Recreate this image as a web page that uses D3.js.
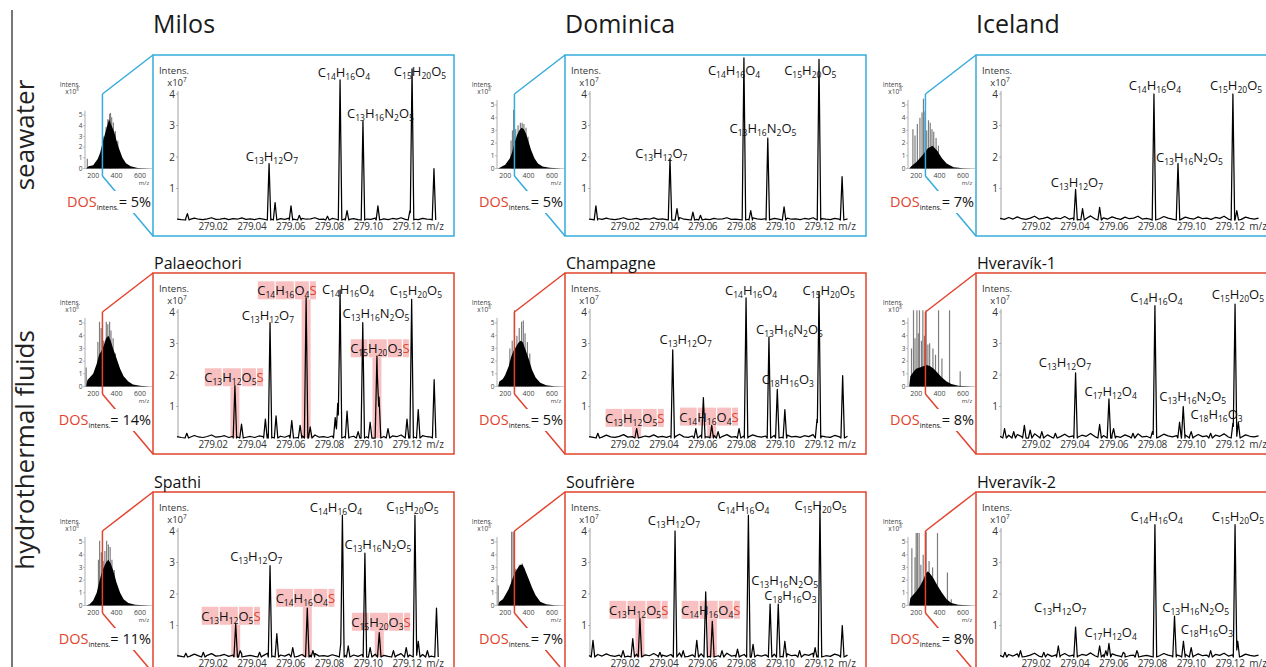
<!DOCTYPE html>
<html>
<head>
<meta charset="utf-8">
<script src="https://cdn.jsdelivr.net/npm/d3@7"></script>
<style>
body { margin: 0; background: #fff; }
svg { display: block; font-family: "Open Sans", sans-serif; }
</style>
</head>
<body>
<script>
// ---------- data ----------
var columns = ["Milos", "Dominica", "Iceland"];
var rowLabels = ["seawater", "hydrothermal fluids"];
var mzTicks = [279.02, 279.04, 279.06, 279.08, 279.10, 279.12];
var intensTicks = [1, 2, 3, 4];
var insetTicksX = [200, 400, 600];
var insetTicksY = [0, 1, 2, 3, 4, 5];

// shared small baseline noise (intensity x10^7)
var baselineNoise = [0.05, 0.02, 0.08, 0.03, 0.1, 0.04, 0.02, 0.06, 0.12, 0.03, 0.05, 0.09, 0.02, 0.07, 0.04, 0.11,
    0.03, 0.06, 0.02, 0.08, 0.05, 0.13, 0.04, 0.02, 0.07, 0.03, 0.1, 0.05, 0.02, 0.09, 0.04, 0.06, 0.12, 0.03,
    0.05, 0.02, 0.08, 0.04, 0.11, 0.06, 0.03, 0.07, 0.02, 0.09, 0.05, 0.03, 0.1, 0.04, 0.06, 0.02, 0.08, 0.05,
    0.12, 0.03, 0.07, 0.04, 0.02, 0.09, 0.05, 0.03, 0.06];

// peaks [m/z, intensity x10^7]
var milosSeaPeaks = [[279.0068, 0.2], [279.0489, 1.79], [279.0520, 0.55], [279.0602, 0.45], [279.0645, 0.15], [279.0790, 0.12],
    [279.0855, 4.45], [279.0891, 0.3], [279.0973, 3.14], [279.1050, 0.45], [279.1215, 0.3], [279.1226, 4.8], [279.1339, 1.63]];
var domSeaPeaks = [[279.0050, 0.45], [279.0432, 1.94], [279.0468, 0.36], [279.0550, 0.25], [279.0589, 0.15], [279.0813, 5.15],
    [279.0848, 0.3], [279.0936, 2.6], [279.1020, 0.42], [279.1200, 5.1], [279.1319, 1.38]];
var iceSeaPeaks = [[279.0404, 0.97], [279.0440, 0.36], [279.0528, 0.4], [279.0808, 4.0], [279.0932, 1.8], [279.1215, 4.0], [279.1235, 0.3]];
var palPeaks = [[279.0065, 0.15], [279.0313, 1.66], [279.0347, 0.44], [279.0470, 0.6], [279.0494, 3.66], [279.0525, 0.7],
    [279.0606, 0.55], [279.0649, 0.4], [279.0680, 4.45], [279.0701, 0.35], [279.0830, 0.65], [279.0843, 1.1], [279.0855, 4.7],
    [279.0891, 0.85], [279.0948, 0.2], [279.0972, 3.66], [279.1010, 0.5], [279.1045, 2.6], [279.1056, 1.3], [279.1102, 0.3],
    [279.1200, 0.6], [279.1224, 4.4], [279.1258, 0.9], [279.1340, 1.85]];
var chaPeaks = [[279.0060, 0.15], [279.0260, 0.3], [279.0446, 2.8], [279.0565, 0.3], [279.0604, 1.28], [279.0647, 0.4],
    [279.0680, 0.2], [279.0788, 0.3], [279.0824, 4.45], [279.0942, 3.2], [279.0985, 1.54], [279.1024, 0.9], [279.1190, 0.6],
    [279.1200, 4.65], [279.1322, 1.98]];
var hv1Peaks = [[279.0038, 0.3], [279.0085, 0.2], [279.0140, 0.4], [279.0170, 0.25], [279.0230, 0.2], [279.0300, 0.15],
    [279.0404, 2.07], [279.0528, 0.43], [279.0576, 1.24], [279.0600, 0.3], [279.0700, 0.15], [279.0800, 0.2], [279.0813, 4.2],
    [279.0940, 0.5], [279.0959, 1.0], [279.1000, 0.2], [279.1100, 0.15], [279.1215, 0.47], [279.1226, 4.25], [279.1243, 0.5]];
var spaPeaks = [[279.0060, 0.12], [279.0150, 0.15], [279.0317, 1.05], [279.0340, 0.2], [279.0440, 0.15], [279.0494, 2.9],
    [279.0529, 0.74], [279.0611, 0.3], [279.0686, 1.55], [279.0715, 0.2], [279.0860, 0.5], [279.0867, 4.5], [279.0897, 0.35],
    [279.0983, 3.3], [279.1010, 0.3], [279.1057, 0.77], [279.1130, 0.2], [279.1196, 0.3], [279.1241, 4.5], [279.1258, 0.5],
    [279.1305, 0.2], [279.1352, 1.55]];
var souPeaks = [[279.0035, 0.53], [279.0190, 0.2], [279.0240, 0.58], [279.0277, 1.23], [279.0380, 0.15], [279.0458, 4.0],
    [279.0500, 0.2], [279.0570, 0.53], [279.0616, 2.07], [279.0650, 1.13], [279.0700, 0.2], [279.0780, 0.25], [279.0836, 4.5],
    [279.0860, 0.4], [279.0948, 1.68], [279.0990, 1.68], [279.1024, 0.5], [279.1100, 0.2], [279.1180, 0.3], [279.1205, 4.8],
    [279.1320, 1.0]];
var hv2Peaks = [[279.0040, 0.15], [279.0120, 0.2], [279.0240, 0.15], [279.0315, 0.35], [279.0404, 0.95], [279.0528, 0.35],
    [279.0560, 0.2], [279.0576, 0.43], [279.0650, 0.15], [279.0720, 0.2], [279.0813, 4.2], [279.0914, 1.3], [279.0960, 0.5],
    [279.1000, 0.3], [279.1100, 0.2], [279.1226, 4.2], [279.1240, 0.5]];

// labels [formula, m/z, intensity of text baseline, m/z of highlighted S peak]
var milosSeaLabels = [["C13H12O7", 279.0504, 1.86], ["C14H16O4", 279.0875, 4.55], ["C13H16N2O5", 279.1063, 3.25], ["C15H20O5", 279.1267, 4.57]];
var domSeaLabels = [["C13H12O7", 279.0387, 1.98], ["C14H16O4", 279.0762, 4.6], ["C13H16N2O5", 279.0911, 2.75], ["C15H20O5", 279.1155, 4.6]];
var iceSeaLabels = [["C13H12O7", 279.0411, 1.06], ["C14H16O4", 279.0813, 4.13], ["C13H16N2O5", 279.0991, 1.85], ["C15H20O5", 279.1231, 4.13]];
var palLabels = [["C14H16O4S", 279.0581, 4.53, 279.0680], ["C14H16O4", 279.0896, 4.56], ["C13H12O7", 279.0483, 3.75],
    ["C13H16N2O5", 279.1040, 3.8], ["C15H20O5", 279.1246, 4.53], ["C15H20O3S", 279.1060, 2.69, 279.1045], ["C13H12O5S", 279.0308, 1.77, 279.0313]];
var chaLabels = [["C14H16O4", 279.0850, 4.55], ["C15H20O5", 279.1250, 4.55], ["C13H12O7", 279.0513, 2.98], ["C13H16N2O5", 279.1048, 3.31],
    ["C18H16O3", 279.1039, 1.72], ["C13H12O5S", 279.0250, 0.48, 279.0260], ["C14H16O4S", 279.0633, 0.52, 279.0647]];
var hv1Labels = [["C13H12O7", 279.0349, 2.26], ["C17H12O4", 279.0585, 1.34], ["C14H16O4", 279.0821, 4.33], ["C15H20O5", 279.1241, 4.4],
    ["C13H16N2O5", 279.1008, 1.18], ["C18H16O3", 279.1131, 0.61]];
var spaLabels = [["C13H12O7", 279.0423, 3.04], ["C14H16O4", 279.0834, 4.6], ["C13H16N2O5", 279.1050, 3.43], ["C15H20O5", 279.1228, 4.63],
    ["C14H16O4S", 279.0676, 1.72, 279.0686], ["C13H12O5S", 279.0292, 1.15, 279.0317], ["C15H20O3S", 279.1066, 0.96, 279.1057]];
var souLabels = [["C13H12O7", 279.0452, 4.2], ["C14H16O4", 279.0810, 4.63], ["C15H20O5", 279.1208, 4.66], ["C13H16N2O5", 279.1023, 2.28],
    ["C18H16O3", 279.1053, 1.8], ["C13H12O5S", 279.0270, 1.34, 279.0277], ["C14H16O4S", 279.0642, 1.34, 279.0650]];
var hv2Labels = [["C13H12O7", 279.0325, 1.43], ["C17H12O4", 279.0585, 0.62], ["C14H16O4", 279.0822, 4.31], ["C15H20O5", 279.1241, 4.31],
    ["C13H16N2O5", 279.1023, 1.43], ["C18H16O3", 279.1081, 0.74]];

// full spectra insets: envelope [m/z, intensity x10^8] and taller spikes
var milosSeaEnv = [[140, 0], [160, 0.2], [200, 0.3], [240, 0.9], [260, 1.5], [280, 2.4], [300, 3.2], [320, 4.0], [335, 4.6], [350, 4.2],
    [365, 3.8], [380, 3.4], [400, 2.6], [420, 1.9], [450, 1.0], [480, 0.5], [520, 0.2], [580, 0.05], [680, 0]];
var milosSeaSpikes = [[150, 0.9], [290, 3.0], [310, 3.9], [325, 4.6], [340, 5.1], [348, 5.2], [358, 4.8], [372, 4.3], [390, 3.5], [410, 2.6]];
var domSeaEnv = [[140, 0], [160, 0.1], [200, 0.3], [240, 0.8], [260, 1.3], [280, 2.0], [300, 2.6], [320, 3.0], [340, 3.2], [360, 3.1],
    [380, 2.7], [400, 2.1], [420, 1.5], [450, 0.8], [480, 0.4], [520, 0.15], [580, 0.05], [680, 0]];
var domSeaSpikes = [[250, 2.2], [262, 3.0], [272, 4.6], [290, 3.1], [310, 3.4], [330, 3.6], [345, 3.6], [360, 3.5], [378, 3.2], [395, 2.5]];
var iceSeaEnv = [[140, 0], [160, 0.2], [200, 0.5], [250, 1.0], [300, 1.6], [340, 1.8], [380, 1.4], [420, 0.8], [460, 0.4], [520, 0.1],
    [600, 0.02], [680, 0]];
var iceSeaSpikes = [[172, 3.1], [190, 2.6], [210, 3.5], [232, 4.0], [250, 4.4], [262, 5.5], [275, 4.5], [290, 3.0], [305, 3.8], [320, 3.6],
    [335, 3.1], [350, 2.9], [370, 2.4], [390, 1.8]];
var palEnv = [[140, 0], [150, 0.5], [180, 0.8], [200, 1.0], [230, 1.8], [250, 2.5], [270, 2.8], [290, 3.2], [310, 3.8], [330, 4.0],
    [350, 3.6], [370, 3.0], [400, 2.2], [430, 1.4], [460, 0.8], [500, 0.4], [540, 0.15], [600, 0.05], [680, 0]];
var palSpikes = [[140, 1.5], [240, 3.5], [254, 5.1], [268, 4.6], [290, 3.6], [312, 5.1], [325, 4.9], [340, 5.1], [352, 4.4], [370, 3.8], [390, 2.6]];
var chaEnv = [[140, 0], [150, 0.4], [180, 0.6], [200, 0.9], [230, 1.6], [250, 2.3], [270, 2.8], [290, 3.1], [310, 3.4], [330, 3.6],
    [350, 3.5], [370, 3.0], [400, 2.2], [430, 1.3], [460, 0.7], [500, 0.3], [550, 0.1], [620, 0.02], [680, 0]];
var chaSpikes = [[240, 3.0], [260, 3.6], [279, 6.2], [300, 4.0], [320, 4.6], [340, 5.1], [355, 5.2], [370, 4.2], [390, 3.5], [410, 2.6]];
var hv1Env = [[140, 0], [150, 0.8], [180, 1.2], [200, 1.4], [230, 1.5], [260, 1.6], [290, 1.7], [320, 1.6], [350, 1.4], [380, 1.1],
    [420, 0.7], [460, 0.4], [500, 0.2], [560, 0.05], [680, 0]];
var hv1Spikes = [[160, 3.0], [177, 6], [190, 3.8], [206, 6], [218, 4.2], [228, 6], [245, 3.6], [257, 6], [270, 4.0], [285, 6], [300, 3.3],
    [315, 3.4], [343, 3.0], [365, 2.5], [391, 6], [420, 2.2], [485, 6], [576, 1.2]];
var spaEnv = [[140, 0], [170, 0.1], [200, 0.4], [230, 1.0], [250, 1.8], [270, 2.5], [290, 3.0], [310, 3.4], [330, 3.6], [350, 3.3],
    [370, 2.8], [400, 1.8], [430, 1.0], [460, 0.5], [500, 0.2], [560, 0.05], [680, 0]];
var spaSpikes = [[245, 3.6], [255, 5.1], [270, 4.2], [285, 3.5], [300, 4.3], [315, 5.1], [330, 4.8], [345, 4.6], [360, 3.6], [380, 2.8]];
var souEnv = [[140, 0], [150, 0.3], [180, 0.5], [200, 0.8], [230, 1.3], [250, 1.8], [270, 2.3], [290, 2.7], [310, 3.0], [330, 3.2],
    [350, 3.2], [370, 2.8], [400, 2.1], [430, 1.4], [460, 0.8], [500, 0.3], [550, 0.1], [620, 0.02], [680, 0]];
var souSpikes = [[140, 1.6], [255, 5.8], [268, 5.8], [290, 2.9], [320, 3.2], [345, 3.3], [360, 3.0]];
var hv2Env = [[140, 0], [150, 0.6], [180, 0.9], [200, 1.1], [230, 1.5], [260, 2.0], [280, 2.5], [300, 2.7], [320, 2.5], [350, 2.1],
    [380, 1.6], [420, 1.0], [460, 0.5], [500, 0.2], [560, 0.05], [680, 0]];
var hv2Spikes = [[163, 4.5], [190, 3.8], [200, 5.7], [210, 5.7], [225, 5.7], [240, 3.2], [260, 4.0], [285, 5.8], [310, 3.5], [340, 3.0],
    [382, 5.7], [467, 2.6], [500, 0.5]];

var panels = [
    { row: 0, col: 0, site: "", dos: 5, noise: 0.6, peaks: milosSeaPeaks, labels: milosSeaLabels, env: milosSeaEnv, spikes: milosSeaSpikes },
    { row: 0, col: 1, site: "", dos: 5, noise: 0.6, peaks: domSeaPeaks, labels: domSeaLabels, env: domSeaEnv, spikes: domSeaSpikes },
    { row: 0, col: 2, site: "", dos: 7, noise: 1.0, peaks: iceSeaPeaks, labels: iceSeaLabels, env: iceSeaEnv, spikes: iceSeaSpikes },
    { row: 1, col: 0, site: "Palaeochori", dos: 14, noise: 0.8, peaks: palPeaks, labels: palLabels, env: palEnv, spikes: palSpikes },
    { row: 1, col: 1, site: "Champagne", dos: 5, noise: 0.9, peaks: chaPeaks, labels: chaLabels, env: chaEnv, spikes: chaSpikes },
    { row: 1, col: 2, site: "Hveravík-1", dos: 8, noise: 1.1, peaks: hv1Peaks, labels: hv1Labels, env: hv1Env, spikes: hv1Spikes },
    { row: 2, col: 0, site: "Spathi", dos: 11, noise: 0.9, peaks: spaPeaks, labels: spaLabels, env: spaEnv, spikes: spaSpikes },
    { row: 2, col: 1, site: "Soufrière", dos: 7, noise: 1.0, peaks: souPeaks, labels: souLabels, env: souEnv, spikes: souSpikes },
    { row: 2, col: 2, site: "Hveravík-2", dos: 8, noise: 1.0, peaks: hv2Peaks, labels: hv2Labels, env: hv2Env, spikes: hv2Spikes }
];

// ---------- layout ----------
var vizWidth = 1266, vizHeight = 667;
var boxLeft = [153, 565, 976], boxTop = [55, 273, 492], boxW = 301, boxH = 181;
var blue = "#35acdc", red = "#e2432d", pink = "#f8c0c0";

var svg = d3.select("body").append("svg")
    .attr("width", vizWidth)
    .attr("height", vizHeight);

svg.append("line")
    .attr("x1", 12).attr("x2", 12).attr("y1", 10).attr("y2", vizHeight)
    .attr("stroke", "#777").attr("stroke-width", 2);

svg.append("text")
    .attr("transform", "translate(34,135) rotate(-90)")
    .attr("text-anchor", "middle")
    .style("font-size", "26px").attr("fill", "#222")
    .text(rowLabels[0]);
svg.append("text")
    .attr("transform", "translate(34,450) rotate(-90)")
    .attr("text-anchor", "middle")
    .style("font-size", "26px").attr("fill", "#222")
    .text(rowLabels[1]);

columns.forEach(function (c, i) {
    svg.append("text")
        .attr("x", boxLeft[i]).attr("y", 33)
        .style("font-size", "25px").attr("fill", "#1a1a1a")
        .text(c);
});

panels.forEach(drawPanel);

function drawFormula(g, f, cx, by, sulfur) {
    var t = g.append("text")
        .attr("x", cx).attr("y", by)
        .attr("text-anchor", "middle")
        .style("font-size", "13px")
        .attr("fill", "#111");
    var toks = f.match(/[A-Z][a-z]?\d*/g);
    var down = false;
    toks.forEach(function (tok) {
        var el = tok.match(/[A-Z][a-z]?/)[0], n = tok.slice(el.length);
        var s = t.append("tspan").text(el);
        if (down) { s.attr("dy", -3); down = false; }
        if (sulfur && el === "S") s.attr("fill", red);
        if (n) {
            t.append("tspan").attr("dy", 3).style("font-size", "8.5px").text(n);
            down = true;
        }
    });
    return { node: t.node(), toks: toks };
}

function drawPanel(p) {
    var L = boxLeft[p.col], T = boxTop[p.row];
    var color = p.row === 0 ? blue : red;
    var g = svg.append("g");

    var x = d3.scaleLinear().domain([279.0, 279.14]).range([L + 21.2, L + 292.8]);
    var y = d3.scaleLinear().domain([0, 4]).range([T + 165, T + 39]);

    // inset full spectrum
    var ix = d3.scaleLinear().domain([130, 700]).range([L - 68, L - 1.3]);
    var iy = d3.scaleLinear().domain([0, 5]).range([T + 113.5, T + (p.row === 0 && p.col === 0 ? 60 : 50)]);
    var inset = g.append("g");

    inset.append("line")
        .attr("x1", ix(130)).attr("x2", L - 1).attr("y1", iy(0)).attr("y2", iy(0))
        .attr("stroke", "#bbb").attr("stroke-width", 0.8);
    inset.append("line")
        .attr("x1", ix(130)).attr("x2", ix(130)).attr("y1", iy(0)).attr("y2", iy(5.4))
        .attr("stroke", "#999").attr("stroke-width", 0.8);

    inset.selectAll(".spike")
        .data(p.spikes).enter().append("line")
        .attr("x1", function (d) { return ix(d[0]); })
        .attr("x2", function (d) { return ix(d[0]); })
        .attr("y1", iy(0))
        .attr("y2", function (d) { return iy(Math.min(d[1], 6)); })
        .attr("stroke", "#7d7d7d").attr("stroke-width", 1.2);

    inset.append("path")
        .datum(p.env)
        .attr("d", d3.area().x(function (d) { return ix(d[0]); }).y0(iy(0)).y1(function (d) { return iy(d[1]); }))
        .attr("fill", "#000");

    insetTicksY.forEach(function (v) {
        inset.append("line")
            .attr("x1", ix(130) - 2).attr("x2", ix(130)).attr("y1", iy(v)).attr("y2", iy(v))
            .attr("stroke", "#999").attr("stroke-width", 0.6);
        inset.append("text")
            .attr("x", ix(130) - 2.5).attr("y", iy(v)).attr("dy", "0.35em")
            .attr("text-anchor", "end")
            .style("font-size", "6.5px").attr("fill", "#444")
            .text(v);
    });
    insetTicksX.forEach(function (v) {
        inset.append("text")
            .attr("x", ix(v)).attr("y", T + 123)
            .attr("text-anchor", "middle")
            .style("font-size", "7px").attr("fill", "#444")
            .text(v);
    });
    inset.append("text")
        .attr("x", L - 9).attr("y", T + 130).attr("text-anchor", "middle")
        .style("font-size", "6px").attr("fill", "#444").text("m/z");
    inset.append("text")
        .attr("x", L - 83).attr("y", T + 31.5).attr("text-anchor", "middle")
        .style("font-size", "6.5px").attr("fill", "#444").text("Intens.");
    var ie = inset.append("text")
        .attr("x", L - 81).attr("y", T + 38.5).attr("text-anchor", "middle")
        .style("font-size", "6.5px").attr("fill", "#444");
    ie.append("tspan").text("x10");
    ie.append("tspan").attr("dy", -2.5).style("font-size", "4.5px").text("8");

    // zoom connector
    var mx = ix(279);
    g.append("line").attr("x1", mx).attr("x2", mx).attr("y1", T + 39).attr("y2", T + 121)
        .attr("stroke", color).attr("stroke-width", 1.5);
    g.append("line").attr("x1", mx).attr("x2", L).attr("y1", T + 39).attr("y2", T)
        .attr("stroke", color).attr("stroke-width", 1.5);
    g.append("line").attr("x1", mx).attr("x2", L).attr("y1", T + 121).attr("y2", T + boxH)
        .attr("stroke", color).attr("stroke-width", 1.5);

    // DOS value
    var dosBg = g.append("rect").attr("fill", "#fff");
    var dos = g.append("text")
        .attr("x", L - 2).attr("y", T + 152)
        .attr("text-anchor", "end")
        .style("font-size", "14.5px").attr("fill", "#111");
    dos.append("tspan").attr("fill", red).text("DOS");
    dos.append("tspan").attr("dy", 3).style("font-size", "7px").text("intens.");
    dos.append("tspan").attr("dy", -3).text("= " + p.dos + "%");
    var bb = dos.node().getBBox();
    dosBg.attr("x", bb.x - 2).attr("y", bb.y - 1).attr("width", bb.width + 3).attr("height", bb.height + 2);

    // zoomed box
    g.append("rect")
        .attr("x", L).attr("y", T).attr("width", boxW).attr("height", boxH)
        .attr("fill", "#fff").attr("stroke", color).attr("stroke-width", 1.5);

    if (p.site) {
        g.append("text")
            .attr("x", L + 1).attr("y", T - 4)
            .style("font-size", "16px").attr("fill", "#111")
            .text(p.site);
    }

    var hlLayer = g.append("g");
    var specLayer = g.append("g");
    var labLayer = g.append("g");

    // axes
    specLayer.append("line")
        .attr("x1", L + 25).attr("x2", L + 25).attr("y1", y(4) - 3).attr("y2", y(0))
        .attr("stroke", "#888").attr("stroke-width", 0.8);
    intensTicks.forEach(function (v) {
        specLayer.append("line")
            .attr("x1", L + 23).attr("x2", L + 25).attr("y1", y(v)).attr("y2", y(v))
            .attr("stroke", "#888").attr("stroke-width", 0.6);
        specLayer.append("text")
            .attr("x", L + 22).attr("y", y(v)).attr("dy", "0.35em")
            .attr("text-anchor", "end")
            .style("font-size", "10px").attr("fill", "#333")
            .text(v);
    });
    labLayer.append("text")
        .attr("x", L + 21).attr("y", T + 19).attr("text-anchor", "middle")
        .style("font-size", "9.5px").attr("fill", "#333").text("Intens.");
    var ye = labLayer.append("text")
        .attr("x", L + 24).attr("y", T + 31).attr("text-anchor", "middle")
        .style("font-size", "9.5px").attr("fill", "#333");
    ye.append("tspan").text("x10");
    ye.append("tspan").attr("dy", -4).style("font-size", "6.5px").text("7");

    mzTicks.forEach(function (v) {
        labLayer.append("text")
            .attr("x", x(v)).attr("y", T + 175)
            .attr("text-anchor", "middle")
            .style("font-size", "10px").style("letter-spacing", "-0.35px").attr("fill", "#333")
            .text(v.toFixed(2));
    });
    labLayer.append("text")
        .attr("x", x(279.1345)).attr("y", T + 175).attr("text-anchor", "middle")
        .style("font-size", "10px").attr("fill", "#333").text("m/z");

    // spectrum: peaks as narrow triangles over a noisy baseline
    var hw = 0.0009;
    var pts = [];
    p.peaks.forEach(function (d) { pts.push([d[0] - hw, 0], [d[0], 0], [d[0] + hw, 0]); });
    baselineNoise.forEach(function (v, i) { pts.push([279.0015 + i * 0.00222, v * p.noise]); });
    pts.sort(function (a, b) { return a[0] - b[0]; });
    pts.forEach(function (pt) {
        p.peaks.forEach(function (d) {
            var t = 1 - Math.abs(pt[0] - d[0]) / hw;
            if (t > 0) pt[1] = Math.max(pt[1], t * d[1]);
        });
    });
    specLayer.append("path")
        .datum(pts)
        .attr("d", d3.line().x(function (d) { return x(d[0]); }).y(function (d) { return y(d[1]); }))
        .attr("fill", "none").attr("stroke", "#000").attr("stroke-width", 1.25)
        .attr("stroke-linejoin", "round");

    // formula labels, S-containing ones highlighted
    p.labels.forEach(function (lb) {
        var sulfur = lb.length > 3;
        var by = y(lb[2]);
        var f = drawFormula(labLayer, lb[0], x(lb[1]), by, sulfur);
        if (!sulfur) return;
        var k = 0;
        f.toks.forEach(function (tok) {
            var x0 = Infinity, x1 = -Infinity;
            for (var j = 0; j < tok.length; j++) {
                var e = f.node.getExtentOfChar(k + j);
                x0 = Math.min(x0, e.x);
                x1 = Math.max(x1, e.x + e.width);
            }
            k += tok.length;
            hlLayer.append("rect")
                .attr("x", x0 + 0.6).attr("y", by - 14)
                .attr("width", Math.max(1, x1 - x0 - 1.2)).attr("height", 18)
                .attr("fill", pink);
        });
        hlLayer.append("rect")
            .attr("x", x(lb[3]) - 4.5).attr("y", by + 4)
            .attr("width", 9).attr("height", Math.max(0, y(0) - by - 4))
            .attr("fill", pink);
    });
}
</script>
</body>
</html>
